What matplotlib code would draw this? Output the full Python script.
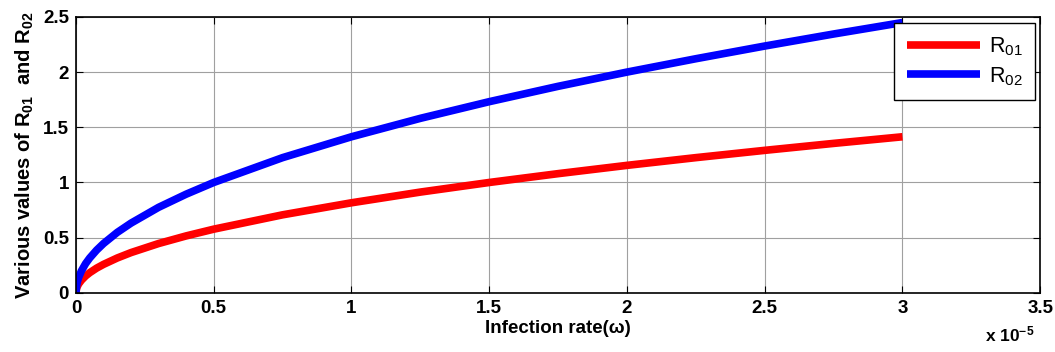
import matplotlib
matplotlib.use("Agg")
import matplotlib.pyplot as plt

plt.rcParams['font.family'] = ['Liberation Sans', 'DejaVu Sans']
plt.rcParams['mathtext.default'] = 'regular'

# infection rate omega, in units of 1e-5
omega = [0, 0.002, 0.005, 0.01, 0.02, 0.035, 0.05, 0.075, 0.1, 0.15, 0.2, 0.3, 0.4, 0.5,
         0.75, 1.0, 1.25, 1.5, 1.75, 2.0, 2.25, 2.5, 2.75, 3.0]
r01 = [0, 0.037, 0.058, 0.082, 0.115, 0.153, 0.183, 0.224, 0.258, 0.316, 0.365, 0.447,
       0.516, 0.577, 0.707, 0.816, 0.913, 1.0, 1.080, 1.155, 1.225, 1.291, 1.354, 1.414]
r02 = [0, 0.063, 0.100, 0.141, 0.200, 0.265, 0.316, 0.387, 0.447, 0.548, 0.632, 0.775,
       0.894, 1.0, 1.225, 1.414, 1.581, 1.732, 1.871, 2.0, 2.121, 2.236, 2.345, 2.449]

xticks = [0, 0.5, 1, 1.5, 2, 2.5, 3, 3.5]
xticklabels = ['0', '0.5', '1', '1.5', '2', '2.5', '3', '3.5']
yticks = [0, 0.5, 1, 1.5, 2, 2.5]
yticklabels = ['0', '0.5', '1', '1.5', '2', '2.5']

fig = plt.figure(figsize=(10.55, 3.52), dpi=100)
ax = fig.add_axes([0.072, 0.168, 0.914, 0.784])

ax.plot(omega, r01, color='#ff0000', lw=5.5, label='R$_{01}$', solid_capstyle='butt')
ax.plot(omega, r02, color='#0000ff', lw=5.5, label='R$_{02}$', solid_capstyle='butt')

ax.set_xlim(0, 3.5)
ax.set_ylim(0, 2.5)
ax.set_xticks(xticks)
ax.set_xticklabels(xticklabels)
ax.set_yticks(yticks)
ax.set_yticklabels(yticklabels)
ax.grid(True, color='#a0a0a0', lw=0.8)
ax.set_axisbelow(True)
ax.tick_params(direction='in', top=True, right=True, length=5, width=0.8,
               labelsize=13.5, pad=5)
for lab in ax.get_xticklabels() + ax.get_yticklabels():
    lab.set_fontweight('bold')
for s in ax.spines.values():
    s.set_linewidth(1.2)

ax.set_xlabel('Infection rate(ω)', fontsize=13.5, fontweight='bold', labelpad=2)
ax.set_ylabel('Various values of R$_{01}$  and R$_{02}$', fontsize=14.5, fontweight='bold', labelpad=5)
fig.text(0.957, 0.022, 'x 10$^{-5}$', fontsize=12.5, fontweight='bold', ha='center', va='bottom')

leg = ax.legend(loc='upper right', bbox_to_anchor=(0.995, 0.978), borderaxespad=0,
                fancybox=False, edgecolor='black', framealpha=1, fontsize=15.5,
                handlelength=3.4, handletextpad=0.4, borderpad=0.6, labelspacing=0.3)
leg.get_frame().set_linewidth(1.0)

fig.savefig('out.png', dpi=100)
